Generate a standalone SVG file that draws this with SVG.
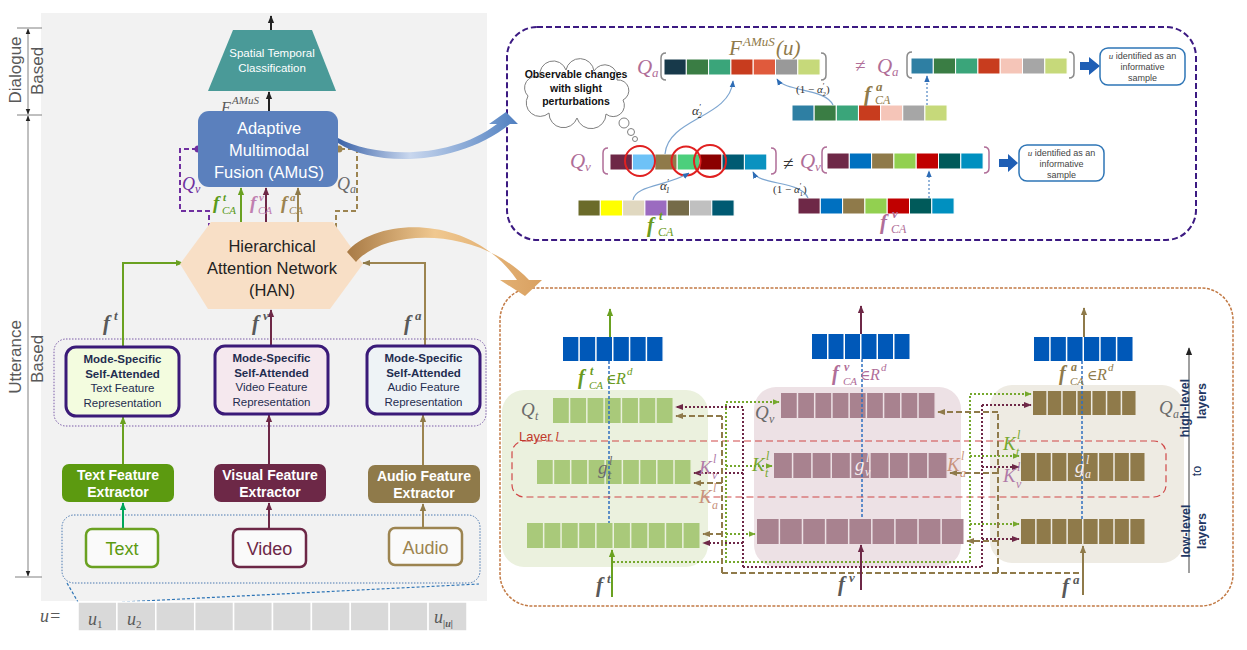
<svg xmlns="http://www.w3.org/2000/svg" width="1247" height="650" viewBox="0 0 1247 650">
<style>
.s{font-family:"Liberation Sans",Arial,sans-serif}
.m{font-family:"Liberation Serif","DejaVu Serif",serif;font-style:italic}
.r{font-family:"Liberation Serif","DejaVu Serif",serif}
.b{font-weight:bold}
.dotG{fill:none;stroke:#76a82e;stroke-width:2;stroke-dasharray:2 2}
.dotM{fill:none;stroke:#6e2847;stroke-width:2;stroke-dasharray:2 2}
.dashB{fill:none;stroke:#8f7a4a;stroke-width:2;stroke-dasharray:6 3}
.bl{fill:none;stroke:#2f6fc0;stroke-width:1.5;stroke-dasharray:3 2}
.c{stroke:#fff;stroke-width:1}
.cv{fill:none;stroke:#7ea6d0;stroke-width:1.2}
.ax{stroke:#808080;stroke-width:1}
</style>
<defs>
<marker id="aK" viewBox="0 0 10 10" refX="9" refY="5" markerWidth="8" markerHeight="8" markerUnits="userSpaceOnUse" orient="auto-start-reverse"><path d="M0,1 L10,5 L0,9 z" fill="#222"/></marker>
<marker id="aS" viewBox="0 0 10 10" refX="9" refY="5" markerWidth="6" markerHeight="6" markerUnits="userSpaceOnUse" orient="auto-start-reverse"><path d="M0,1 L10,5 L0,9 z" fill="#222"/></marker>
<marker id="aG" viewBox="0 0 10 10" refX="9" refY="5" markerWidth="8" markerHeight="8" markerUnits="userSpaceOnUse" orient="auto"><path d="M0,1 L10,5 L0,9 z" fill="#6aa121"/></marker>
<marker id="aT" viewBox="0 0 10 10" refX="9" refY="5" markerWidth="8" markerHeight="8" markerUnits="userSpaceOnUse" orient="auto"><path d="M0,1 L10,5 L0,9 z" fill="#00a65a"/></marker>
<marker id="aM" viewBox="0 0 10 10" refX="9" refY="5" markerWidth="8" markerHeight="8" markerUnits="userSpaceOnUse" orient="auto"><path d="M0,1 L10,5 L0,9 z" fill="#6e2847"/></marker>
<marker id="aB" viewBox="0 0 10 10" refX="9" refY="5" markerWidth="8" markerHeight="8" markerUnits="userSpaceOnUse" orient="auto"><path d="M0,1 L10,5 L0,9 z" fill="#8f7a4a"/></marker>
<marker id="aBl" viewBox="0 0 10 10" refX="9" refY="5" markerWidth="7" markerHeight="7" markerUnits="userSpaceOnUse" orient="auto"><path d="M0,1 L10,5 L0,9 z" fill="#2d6cb5"/></marker>
<marker id="aGd" viewBox="0 0 10 10" refX="9" refY="5" markerWidth="7" markerHeight="7" markerUnits="userSpaceOnUse" orient="auto"><path d="M0,1 L10,5 L0,9 z" fill="#76a82e"/></marker>
<linearGradient id="gBlue" x1="338" y1="0" x2="518" y2="0" gradientUnits="userSpaceOnUse"><stop offset="0" stop-color="#3b63a8"/><stop offset="0.4" stop-color="#c9d7ee"/><stop offset="1" stop-color="#4f7fc0"/></linearGradient>
<linearGradient id="gOr" x1="347" y1="0" x2="542" y2="0" gradientUnits="userSpaceOnUse"><stop offset="0" stop-color="#a87a45"/><stop offset="0.45" stop-color="#f0c890"/><stop offset="1" stop-color="#d9a060"/></linearGradient>
</defs>
<rect width="1247" height="650" fill="#fff"/>

<!-- LEFT PANEL -->
<rect x="41" y="13" width="446" height="588" fill="#f2f2f2"/>

<g id="axis-left">
<line class="ax" x1="17" y1="28" x2="42" y2="28"/>
<line class="ax" x1="17" y1="115" x2="42" y2="115"/>
<line class="ax" x1="15" y1="577" x2="42" y2="577"/>
<line class="ax" x1="28" y1="29" x2="28" y2="114" marker-start="url(#aS)" marker-end="url(#aS)"/>
<line class="ax" x1="28" y1="116" x2="28" y2="576" marker-start="url(#aS)" marker-end="url(#aS)"/>
<text transform="translate(21,70) rotate(-90)" class="s" font-size="17" fill="#595959" text-anchor="middle">Dialogue</text>
<text transform="translate(43,71) rotate(-90)" class="s" font-size="17" fill="#595959" text-anchor="middle">Based</text>
<text transform="translate(21,357) rotate(-90)" class="s" font-size="17" fill="#595959" text-anchor="middle">Utterance</text>
<text transform="translate(43,359) rotate(-90)" class="s" font-size="17" fill="#595959" text-anchor="middle">Based</text>
</g>

<g id="group-rep" fill="none">
<rect x="54" y="339" width="432" height="87" rx="12" stroke="#7a5aa8" stroke-width="1" stroke-dasharray="1.5 1.5"/>
<rect x="62" y="515" width="418" height="68" rx="12" stroke="#4a78b0" stroke-width="1" stroke-dasharray="1.5 1.5"/>
</g>

<g id="left-connectors" fill="none" stroke-width="2">
<line x1="271" y1="30" x2="271" y2="16" stroke="#222" marker-end="url(#aK)"/>
<line x1="269" y1="111" x2="269" y2="92" stroke="#222" marker-end="url(#aK)"/>
<path d="M209,228 V211 H180 V149 H196" stroke="#7030a0" stroke-dasharray="5 3"/>
<path d="M336,228 V211 H357 V149 H341" stroke="#9c8450" stroke-dasharray="5 3"/>
<line x1="241" y1="222" x2="241" y2="188" stroke="#6aa121" marker-end="url(#aG)"/>
<line x1="266" y1="222" x2="266" y2="188" stroke="#6e2847" marker-end="url(#aM)"/>
<line x1="298" y1="222" x2="298" y2="188" stroke="#9c8450" marker-end="url(#aB)"/>
<path d="M123,346 V263 H183" stroke="#6aa121" marker-end="url(#aG)"/>
<path d="M425,346 V263 H363" stroke="#9c8450" marker-end="url(#aB)"/>
<line x1="271" y1="346" x2="271" y2="310" stroke="#6e2847" marker-end="url(#aM)"/>
<line x1="123" y1="464" x2="123" y2="417" stroke="#6aa121" marker-end="url(#aG)"/>
<line x1="269" y1="464" x2="269" y2="415" stroke="#6e2847" marker-end="url(#aM)"/>
<line x1="423" y1="465" x2="423" y2="415" stroke="#9c8450" marker-end="url(#aB)"/>
<line x1="123" y1="529" x2="123" y2="503" stroke="#00a65a" marker-end="url(#aT)"/>
<line x1="269" y1="529" x2="269" y2="503" stroke="#6e2847" marker-end="url(#aM)"/>
<line x1="423" y1="528" x2="423" y2="504" stroke="#9c8450" marker-end="url(#aB)"/>
<path d="M67,583 L78,602 M122,602 L479,584" stroke="#2e75b6" stroke-width="1.2" stroke-dasharray="3 2"/>
</g>
<circle cx="198" cy="149" r="3.5" fill="#7030a0"/>
<circle cx="339" cy="149" r="3.5" fill="#9c8450"/>

<g id="node-stc">
<polygon points="233,30 312,30 336,91 208,91" fill="#4a9a98"/>
<text x="272" y="57" class="s" font-size="11.5" fill="#fff" text-anchor="middle">Spatial Temporal</text>
<text x="272" y="72" class="s" font-size="11.5" fill="#fff" text-anchor="middle">Classification</text>
</g>
<text x="221" y="113" class="m" font-size="16" fill="#595959">F</text>
<text x="232" y="104" class="m" font-size="11" fill="#595959">AMuS</text>

<g id="node-amus">
<rect x="198" y="111" width="140" height="76" rx="11" fill="#5b80bd"/>
<text x="269" y="134" class="s" font-size="16.5" fill="#fff" text-anchor="middle">Adaptive</text>
<text x="269" y="156" class="s" font-size="16.5" fill="#fff" text-anchor="middle">Multimodal</text>
<text x="269" y="178" class="s" font-size="16.5" fill="#fff" text-anchor="middle">Fusion (AMuS)</text>
</g>

<g id="labels-left">
<text x="182" y="190" class="m" font-size="18" fill="#7030a0">Q</text><text x="195" y="193" class="m" font-size="12" fill="#7030a0">v</text>
<text x="337" y="190" class="m" font-size="18" fill="#6a6a6a">Q</text><text x="350" y="193" class="m" font-size="12" fill="#6a6a6a">a</text>
<text x="213" y="209" class="m b" font-size="19" fill="#5a9a1a">f</text><text x="223" y="201" class="m b" font-size="11" fill="#5a9a1a">t</text><text x="222" y="214" class="m" font-size="11" fill="#5a9a1a">CA</text>
<text x="250" y="209" class="m b" font-size="19" fill="#c080b0">f</text><text x="259" y="201" class="m b" font-size="11" fill="#c080b0">v</text><text x="258" y="214" class="m" font-size="11" fill="#c080b0">CA</text>
<text x="281" y="209" class="m b" font-size="19" fill="#9c8450">f</text><text x="290" y="201" class="m b" font-size="11" fill="#9c8450">a</text><text x="289" y="214" class="m" font-size="11" fill="#9c8450">CA</text>
<text x="103" y="330" class="m b" font-size="21" fill="#595959">f</text><text x="114" y="320" class="m b" font-size="13" fill="#595959">t</text>
<text x="252" y="330" class="m b" font-size="21" fill="#595959">f</text><text x="263" y="320" class="m b" font-size="13" fill="#595959">v</text>
<text x="404" y="330" class="m b" font-size="21" fill="#595959">f</text><text x="415" y="320" class="m b" font-size="13" fill="#595959">a</text>
</g>

<g id="node-han">
<polygon points="211,222 333,222 363,264 330,309 208,309 180,264" fill="#f8dfc6"/>
<text x="272" y="252" class="s" font-size="16.5" fill="#222" text-anchor="middle">Hierarchical</text>
<text x="272" y="274" class="s" font-size="16.5" fill="#222" text-anchor="middle">Attention Network</text>
<text x="272" y="296" class="s" font-size="16.5" fill="#222" text-anchor="middle">(HAN)</text>
</g>

<g id="node-rep-text">
<rect x="66" y="347" width="113" height="69" rx="10" fill="#f3fcdf" stroke="#3a1a78" stroke-width="3"/>
<text x="122.5" y="363" class="s b" font-size="11.5" fill="#1f2d50" text-anchor="middle">Mode-Specific</text>
<text x="122.5" y="378" class="s b" font-size="11.5" fill="#1f2d50" text-anchor="middle">Self-Attended</text>
<text x="122.5" y="392" class="s" font-size="11.5" fill="#1f2d50" text-anchor="middle">Text Feature</text>
<text x="122.5" y="407" class="s" font-size="11.5" fill="#1f2d50" text-anchor="middle">Representation</text>
</g>
<g id="node-rep-video">
<rect x="215" y="346" width="113" height="68" rx="10" fill="#f5e8ee" stroke="#3a1a78" stroke-width="3"/>
<text x="271.5" y="362" class="s b" font-size="11.5" fill="#1f2d50" text-anchor="middle">Mode-Specific</text>
<text x="271.5" y="377" class="s b" font-size="11.5" fill="#1f2d50" text-anchor="middle">Self-Attended</text>
<text x="271.5" y="391" class="s" font-size="11.5" fill="#1f2d50" text-anchor="middle">Video Feature</text>
<text x="271.5" y="406" class="s" font-size="11.5" fill="#1f2d50" text-anchor="middle">Representation</text>
</g>
<g id="node-rep-audio">
<rect x="367" y="346" width="113" height="68" rx="10" fill="#eef3f6" stroke="#3a1a78" stroke-width="3"/>
<text x="423.5" y="362" class="s b" font-size="11.5" fill="#1f2d50" text-anchor="middle">Mode-Specific</text>
<text x="423.5" y="377" class="s b" font-size="11.5" fill="#1f2d50" text-anchor="middle">Self-Attended</text>
<text x="423.5" y="391" class="s" font-size="11.5" fill="#1f2d50" text-anchor="middle">Audio Feature</text>
<text x="423.5" y="406" class="s" font-size="11.5" fill="#1f2d50" text-anchor="middle">Representation</text>
</g>

<g id="node-ext-text">
<rect x="62" y="464" width="112" height="38" rx="7" fill="#5c9a10"/>
<text x="118" y="480" class="s b" font-size="14" fill="#fff" text-anchor="middle">Text Feature</text>
<text x="118" y="497" class="s b" font-size="14" fill="#fff" text-anchor="middle">Extractor</text>
</g>
<g id="node-ext-visual">
<rect x="214" y="464" width="112" height="38" rx="7" fill="#6d2847"/>
<text x="270" y="480" class="s b" font-size="14" fill="#fff" text-anchor="middle">Visual Feature</text>
<text x="270" y="497" class="s b" font-size="14" fill="#fff" text-anchor="middle">Extractor</text>
</g>
<g id="node-ext-audio">
<rect x="368" y="465" width="112" height="38" rx="7" fill="#8f7a4a"/>
<text x="424" y="481" class="s b" font-size="14" fill="#fff" text-anchor="middle">Audio Feature</text>
<text x="424" y="498" class="s b" font-size="14" fill="#fff" text-anchor="middle">Extractor</text>
</g>

<g id="node-in-text">
<rect x="86" y="529" width="72" height="38" rx="6" fill="#fafafa" stroke="#6aa121" stroke-width="2.5"/>
<text x="122" y="555" class="s" font-size="18" fill="#5c9a10" text-anchor="middle">Text</text>
</g>
<g id="node-in-video">
<rect x="233" y="529" width="73" height="38" rx="6" fill="#fafafa" stroke="#6d2847" stroke-width="2.5"/>
<text x="269.5" y="555" class="s" font-size="18" fill="#6d2847" text-anchor="middle">Video</text>
</g>
<g id="node-in-audio">
<rect x="389" y="528" width="73" height="37" rx="6" fill="#fafafa" stroke="#9c8450" stroke-width="2.5"/>
<text x="425.5" y="554" class="s" font-size="18" fill="#9c8450" text-anchor="middle">Audio</text>
</g>

<g id="node-u-row">
<text x="40" y="622" class="m" font-size="18" fill="#595959">u=</text>
<g fill="#d9d9d9" stroke="#fff" stroke-width="1.5">
<rect x="78" y="602" width="38.9" height="29"/><rect x="116.9" y="602" width="38.9" height="29"/><rect x="155.8" y="602" width="38.9" height="29"/><rect x="194.7" y="602" width="38.9" height="29"/><rect x="233.6" y="602" width="38.9" height="29"/><rect x="272.5" y="602" width="38.9" height="29"/><rect x="311.4" y="602" width="38.9" height="29"/><rect x="350.3" y="602" width="38.9" height="29"/><rect x="389.2" y="602" width="38.9" height="29"/><rect x="428.1" y="602" width="38.9" height="29"/>
</g>
<text x="88" y="625" class="m" font-size="18" fill="#595959">u</text><text x="97" y="628" class="r" font-size="11" fill="#595959">1</text>
<text x="127" y="625" class="m" font-size="18" fill="#595959">u</text><text x="136" y="628" class="r" font-size="11" fill="#595959">2</text>
<text x="434" y="623" class="m" font-size="18" fill="#595959">u</text><text x="443" y="627" class="m b" font-size="10" fill="#595959">|u|</text>
</g>

<!-- TOP RIGHT PANEL -->
<g id="panel-amus-detail">
<rect x="507" y="27" width="689" height="213" rx="30" fill="none" stroke="#3c1a82" stroke-width="2" stroke-dasharray="6 3"/>
</g>

<g id="node-cloud">
<path d="M528,96 A11.5,11.5 0 0 1 540,77 A13.5,13.5 0 0 1 566,70 A14.2,14.2 0 0 1 594,71 A12.5,12.5 0 0 1 617,80 A10.6,10.6 0 0 1 623,100 A11.2,11.2 0 0 1 606,114 A14.8,14.8 0 0 1 577,118 A14.4,14.4 0 0 1 549,113 A13.7,13.7 0 0 1 528,96 Z" fill="#fff" stroke="#7f7f7f" stroke-width="1"/>
<circle cx="624" cy="123" r="5" fill="#fff" stroke="#7f7f7f"/>
<circle cx="631" cy="132" r="3.5" fill="#fff" stroke="#7f7f7f"/>
<circle cx="635" cy="139" r="2.5" fill="#fff" stroke="#7f7f7f"/>
<text x="576" y="78" class="s b" font-size="10.5" fill="#111" text-anchor="middle">Observable changes</text>
<text x="576" y="92" class="s b" font-size="10.5" fill="#111" text-anchor="middle">with slight</text>
<text x="576" y="105" class="s b" font-size="10.5" fill="#111" text-anchor="middle">perturbations</text>
</g>

<g id="node-qa-row">
<text x="637" y="74" class="m" font-size="21" fill="#b06e98">Q</text><text x="652" y="77" class="m" font-size="13" fill="#b06e98">a</text>
<path d="M666,53 Q661,53 661,58 V75 Q661,80 666,80 M821,53 Q826,53 826,58 V75 Q826,80 821,80" fill="none" stroke="#8a8a8a" stroke-width="1.5"/>
<g class="c">
<rect x="664" y="59" width="22.3" height="16" fill="#17394a"/><rect x="686.3" y="59" width="22.3" height="16" fill="#3a7d44"/><rect x="708.6" y="59" width="22.3" height="16" fill="#3aa57a"/><rect x="730.9" y="59" width="22.3" height="16" fill="#c83c1e"/><rect x="753.2" y="59" width="22.3" height="16" fill="#e05a3c"/><rect x="775.5" y="59" width="22.3" height="16" fill="#999999"/><rect x="797.8" y="59" width="22.3" height="16" fill="#c6d97a"/>
</g>
<text x="729" y="55" class="m" font-size="21" fill="#8f7a4a">F</text><text x="743" y="46" class="m" font-size="13" fill="#8f7a4a">AMuS</text><text x="776" y="55" class="m" font-size="21" fill="#8f7a4a">(u)</text>
<text x="855" y="72" class="r" font-size="19" fill="#b06e98">≠</text>
<text x="877" y="73" class="m" font-size="21" fill="#b06e98">Q</text><text x="892" y="76" class="m" font-size="13" fill="#b06e98">a</text>
<path d="M912,52 Q907,52 907,57 V73 Q907,78 912,78 M1069,52 Q1074,52 1074,57 V73 Q1074,78 1069,78" fill="none" stroke="#8a8a8a" stroke-width="1.5"/>
<g class="c">
<rect x="911" y="58" width="22.3" height="16" fill="#2e7fa3"/><rect x="933.3" y="58" width="22.3" height="16" fill="#3a7d44"/><rect x="955.6" y="58" width="22.3" height="16" fill="#3aa57a"/><rect x="977.9" y="58" width="22.3" height="16" fill="#c83c1e"/><rect x="1000.2" y="58" width="22.3" height="16" fill="#f5c5b8"/><rect x="1022.5" y="58" width="22.3" height="16" fill="#a6a6a6"/><rect x="1044.8" y="58" width="22.3" height="16" fill="#c6d97a"/>
</g>
<polygon points="1080,62 1089,62 1089,57 1100,66 1089,75 1089,70 1080,70" fill="#1f5fb5"/>
</g>

<g id="node-info-1">
<rect x="1100" y="48" width="85" height="37" rx="8" fill="#fff" stroke="#2e75b6" stroke-width="1.5"/>
<text x="1142.5" y="59" class="s" font-size="9" fill="#444" text-anchor="middle"><tspan class="m">u</tspan> identified as an</text>
<text x="1142.5" y="70" class="s" font-size="9" fill="#444" text-anchor="middle">informative</text>
<text x="1142.5" y="81" class="s" font-size="9" fill="#444" text-anchor="middle">sample</text>
</g>

<g id="node-fa-ca">
<g class="c">
<rect x="792" y="105" width="22.15" height="16" fill="#2e7fa3"/><rect x="814.15" y="105" width="22.15" height="16" fill="#3a7d44"/><rect x="836.3" y="105" width="22.15" height="16" fill="#3aa57a"/><rect x="858.45" y="105" width="22.15" height="16" fill="#c83c1e"/><rect x="880.6" y="105" width="22.15" height="16" fill="#f5c5b8"/><rect x="902.75" y="105" width="22.15" height="16" fill="#a6a6a6"/><rect x="924.9" y="105" width="22.15" height="16" fill="#c6d97a"/>
</g>
<text x="864" y="101" class="m b" font-size="21" fill="#8f7a4a">f</text><text x="876" y="91" class="m b" font-size="13" fill="#8f7a4a">a</text><text x="875" y="104" class="m" font-size="12" fill="#8f7a4a">CA</text>
</g>

<g id="node-qv-row">
<text x="570" y="168" class="m" font-size="21" fill="#b06e98">Q</text><text x="585" y="171" class="m" font-size="13" fill="#b06e98">v</text>
<path d="M608,148 Q603,148 603,153 V169 Q603,174 608,174 M771,148 Q776,148 776,153 V169 Q776,174 771,174" fill="none" stroke="#b06e98" stroke-width="1.5"/>
<g class="c">
<rect x="610" y="154" width="22.4" height="16" fill="#6e2847"/><rect x="632.4" y="154" width="22.4" height="16" fill="#6ec2f7"/><rect x="654.8" y="154" width="22.4" height="16" fill="#8f7a4a"/><rect x="677.2" y="154" width="22.4" height="16" fill="#4ccf7c"/><rect x="699.6" y="154" width="22.4" height="16" fill="#8b0000"/><rect x="722" y="154" width="22.4" height="16" fill="#005a72"/><rect x="744.4" y="154" width="22.4" height="16" fill="#0a92c0"/>
</g>
<g fill="none" stroke="#e02020" stroke-width="2">
<circle cx="640" cy="161" r="15"/><circle cx="686" cy="161" r="14.5"/><circle cx="710" cy="161" r="16"/>
</g>
<text x="783" y="170" class="r" font-size="19" fill="#333">≠</text>
<text x="800" y="168" class="m" font-size="21" fill="#b06e98">Q</text><text x="815" y="171" class="m" font-size="13" fill="#b06e98">v</text>
<path d="M827,147 Q822,147 822,152 V168 Q822,173 827,173 M984,147 Q989,147 989,152 V168 Q989,173 984,173" fill="none" stroke="#b06e98" stroke-width="1.5"/>
<g class="c">
<rect x="827" y="153" width="22.3" height="16" fill="#6e2847"/><rect x="849.3" y="153" width="22.3" height="16" fill="#0070c0"/><rect x="871.6" y="153" width="22.3" height="16" fill="#8f7a4a"/><rect x="893.9" y="153" width="22.3" height="16" fill="#92d050"/><rect x="916.2" y="153" width="22.3" height="16" fill="#c00000"/><rect x="938.5" y="153" width="22.3" height="16" fill="#005a5a"/><rect x="960.8" y="153" width="22.3" height="16" fill="#0090c0"/>
</g>
<polygon points="999,159 1008,159 1008,154 1018,163 1008,172 1008,167 999,167" fill="#1f5fb5"/>
</g>

<g id="node-info-2">
<rect x="1019" y="145" width="85" height="36" rx="8" fill="#fff" stroke="#2e75b6" stroke-width="1.5"/>
<text x="1061.5" y="156" class="s" font-size="9" fill="#444" text-anchor="middle"><tspan class="m">u</tspan> identified as an</text>
<text x="1061.5" y="167" class="s" font-size="9" fill="#444" text-anchor="middle">informative</text>
<text x="1061.5" y="178" class="s" font-size="9" fill="#444" text-anchor="middle">sample</text>
</g>

<g id="node-fv-ca">
<g class="c">
<rect x="798" y="198" width="22.3" height="16" fill="#6e2847"/><rect x="820.3" y="198" width="22.3" height="16" fill="#0070c0"/><rect x="842.6" y="198" width="22.3" height="16" fill="#8f7a4a"/><rect x="864.9" y="198" width="22.3" height="16" fill="#92d050"/><rect x="887.2" y="198" width="22.3" height="16" fill="#c00000"/><rect x="909.5" y="198" width="22.3" height="16" fill="#005a5a"/><rect x="931.8" y="198" width="22.3" height="16" fill="#0090c0"/>
</g>
<text x="880" y="229" class="m b" font-size="21" fill="#b06e98">f</text><text x="892" y="218" class="m b" font-size="13" fill="#b06e98">v</text><text x="891" y="233" class="m" font-size="12" fill="#b06e98">CA</text>
</g>

<g id="node-ft-ca">
<g class="c">
<rect x="578" y="200" width="22.3" height="16" fill="#6b6b2a"/><rect x="600.3" y="200" width="22.3" height="16" fill="#ffff00"/><rect x="622.6" y="200" width="22.3" height="16" fill="#e0d8c0"/><rect x="644.9" y="200" width="22.3" height="16" fill="#9b6bc0"/><rect x="667.2" y="200" width="22.3" height="16" fill="#756b48"/><rect x="689.5" y="200" width="22.3" height="16" fill="#c0c0c0"/><rect x="711.8" y="200" width="22.3" height="16" fill="#005a72"/>
</g>
<text x="647" y="232" class="m b" font-size="21" fill="#6a9a20">f</text><text x="659" y="220" class="m b" font-size="13" fill="#6a9a20">t</text><text x="658" y="236" class="m" font-size="12" fill="#6a9a20">CA</text>
</g>

<g id="top-connectors">
<path class="cv" d="M833,105 C825,88 785,92 777,79" marker-end="url(#aBl)"/>
<path class="cv" d="M665,154 C668,118 730,118 733,81" marker-end="url(#aBl)"/>
<path class="cv" d="M808,198 C800,180 760,186 753,172" marker-end="url(#aBl)"/>
<path class="cv" d="M633,200 C635,185 668,186 689,173" marker-end="url(#aBl)"/>
<line x1="927" y1="105" x2="927" y2="76" stroke="#2d6cb5" stroke-width="1" stroke-dasharray="2 2" marker-end="url(#aBl)"/>
<line x1="929" y1="198" x2="929" y2="171" stroke="#2d6cb5" stroke-width="1" stroke-dasharray="2 2" marker-end="url(#aBl)"/>
<text x="796" y="93" class="r" font-size="11" fill="#333">(1 − <tspan class="m">α</tspan><tspan font-size="8" dy="-4">′</tspan><tspan font-size="7" dx="-2" dy="7">2</tspan><tspan dy="-3">)</tspan></text>
<text x="692" y="115" class="m" font-size="13" fill="#333">α<tspan font-size="9" dy="-5">′</tspan><tspan font-size="8" dx="-3" dy="8">2</tspan></text>
<text x="773" y="193" class="r" font-size="11" fill="#333">(1 − <tspan class="m">α</tspan><tspan font-size="8" dy="-4">′</tspan><tspan font-size="7" dx="-2" dy="7">1</tspan><tspan dy="-3">)</tspan></text>
<text x="660" y="190" class="m" font-size="13" fill="#333">α<tspan font-size="9" dy="-5">′</tspan><tspan font-size="8" dx="-3" dy="8">1</tspan></text>
</g>

<!-- BOTTOM RIGHT PANEL -->
<g id="panel-han-detail">
<rect x="500" y="288" width="733" height="318" rx="32" fill="none" stroke="#c27a45" stroke-width="1.5" stroke-dasharray="3 1.5"/>
</g>

<g id="node-col-text">
<rect x="502" y="390" width="206" height="177" rx="22" fill="#ebf1de"/>
<line x1="563" y1="349" x2="664" y2="349" stroke="#0058b8" stroke-width="24" stroke-dasharray="15.33 1.5"/>
<line x1="553" y1="410.5" x2="674" y2="410.5" stroke="#a9c97a" stroke-width="25" stroke-dasharray="15.79 1.5"/>
<line x1="537" y1="472" x2="692" y2="472" stroke="#a9c97a" stroke-width="24" stroke-dasharray="15.72 1.5"/>
<line x1="527" y1="535.5" x2="701" y2="535.5" stroke="#a9c97a" stroke-width="25" stroke-dasharray="15.9 1.5"/>
<line class="bl" x1="609" y1="361" x2="609" y2="523"/>
<text x="521" y="416" class="m" font-size="19" fill="#6b6b6b">Q</text><text x="535" y="420" class="m" font-size="12" fill="#6b6b6b">t</text>
<text x="598" y="474" class="m" font-size="19" fill="#6b6b6b">g</text><text x="609" y="465" class="m" font-size="12" fill="#6b6b6b">l</text><text x="608" y="479" class="m" font-size="12" fill="#6b6b6b">t</text>
</g>
<g id="node-col-video">
<rect x="754" y="387" width="207" height="180" rx="22" fill="#ede1e5"/>
<line x1="812" y1="346.5" x2="911" y2="346.5" stroke="#0058b8" stroke-width="25" stroke-dasharray="15 1.5"/>
<line x1="781" y1="405.5" x2="936" y2="405.5" stroke="#a8828f" stroke-width="25" stroke-dasharray="15.72 1.5"/>
<line x1="774" y1="465.5" x2="948" y2="465.5" stroke="#a8828f" stroke-width="25" stroke-dasharray="17.83 1.5"/>
<line x1="757" y1="531.5" x2="965" y2="531.5" stroke="#a8828f" stroke-width="25" stroke-dasharray="21.61 1.5"/>
<line class="bl" x1="862" y1="359" x2="862" y2="519"/>
<text x="755" y="419" class="m" font-size="19" fill="#6b6b6b">Q</text><text x="769" y="423" class="m" font-size="12" fill="#6b6b6b">v</text>
<text x="855" y="471" class="m" font-size="19" fill="#f5eef2">g</text><text x="866" y="462" class="m" font-size="12" fill="#f5eef2">l</text><text x="865" y="476" class="m" font-size="12" fill="#f5eef2">v</text>
</g>
<g id="node-col-audio">
<rect x="990" y="385" width="194" height="178" rx="22" fill="#eeebe3"/>
<line x1="1034" y1="349" x2="1134" y2="349" stroke="#0058b8" stroke-width="24" stroke-dasharray="15.17 1.5"/>
<line x1="1033" y1="403" x2="1137" y2="403" stroke="#8f7a4a" stroke-width="24" stroke-dasharray="13.36 1.5"/>
<line x1="1021" y1="467" x2="1146" y2="467" stroke="#8f7a4a" stroke-width="28" stroke-dasharray="14.125 1.5"/>
<line x1="1021" y1="531.5" x2="1146" y2="531.5" stroke="#8f7a4a" stroke-width="25" stroke-dasharray="14.125 1.5"/>
<line class="bl" x1="1082" y1="361" x2="1082" y2="519"/>
<text x="1159" y="414" class="m" font-size="19" fill="#6b6b6b">Q</text><text x="1173" y="418" class="m" font-size="12" fill="#6b6b6b">a</text>
<text x="1075" y="473" class="m" font-size="19" fill="#f5eef2">g</text><text x="1086" y="464" class="m" font-size="12" fill="#f5eef2">l</text><text x="1085" y="478" class="m" font-size="12" fill="#f5eef2">a</text>
</g>

<g id="layer-l">
<rect x="512" y="441" width="654" height="56" rx="12" fill="none" stroke="#d04848" stroke-width="1.2" stroke-dasharray="7 4"/>
<text x="519" y="441" class="s" font-size="13" fill="#c0392b">Layer <tspan class="m">l</tspan></text>
</g>

<g id="han-connectors">
<path class="dotG" d="M613,562 H970 M726,562 V402 M970,562 V394"/>
<path class="dotG" d="M726,402 H779" marker-end="url(#aGd)"/>
<path class="dotG" d="M726,466 H772" marker-end="url(#aGd)"/>
<path class="dotG" d="M726,534 H755" marker-end="url(#aGd)"/>
<path class="dotG" d="M970,394 H1031" marker-end="url(#aGd)"/>
<path class="dotG" d="M970,456 H1019" marker-end="url(#aGd)"/>
<path class="dotG" d="M970,524 H1019" marker-end="url(#aGd)"/>
<path class="dotM" d="M743,567 H982 M743,567 V407 M982,567 V405"/>
<path class="dotM" d="M743,407 H676" marker-end="url(#aM)"/>
<path class="dotM" d="M743,473 H694" marker-end="url(#aM)"/>
<path class="dotM" d="M743,543 H703" marker-end="url(#aM)"/>
<path class="dotM" d="M982,405 H1031" marker-end="url(#aM)"/>
<path class="dotM" d="M982,467 H1019" marker-end="url(#aM)"/>
<path class="dotM" d="M982,539 H1019" marker-end="url(#aM)"/>
<path class="dashB" d="M722,573 H1083 M722,573 V416 M998,573 V412"/>
<path class="dashB" d="M722,416 H676" marker-end="url(#aB)"/>
<path class="dashB" d="M722,483 H694" marker-end="url(#aB)"/>
<path class="dashB" d="M722,534 H703" marker-end="url(#aB)"/>
<path class="dashB" d="M998,412 H938" marker-end="url(#aB)"/>
<path class="dashB" d="M998,473 H950" marker-end="url(#aB)"/>
<path class="dashB" d="M998,541 H967" marker-end="url(#aB)"/>
<line x1="612" y1="597" x2="612" y2="550" stroke="#6aa121" stroke-width="2" marker-end="url(#aG)"/>
<line x1="861" y1="590" x2="861" y2="545" stroke="#6e2847" stroke-width="2" marker-end="url(#aM)"/>
<line x1="1083" y1="595" x2="1083" y2="546" stroke="#8f7a4a" stroke-width="2" marker-end="url(#aB)"/>
<line x1="610" y1="337" x2="610" y2="309" stroke="#6aa121" stroke-width="2" marker-end="url(#aG)"/>
<line x1="861" y1="334" x2="861" y2="306" stroke="#6e2847" stroke-width="2" marker-end="url(#aM)"/>
<line x1="1084" y1="337" x2="1084" y2="308" stroke="#8f7a4a" stroke-width="2" marker-end="url(#aB)"/>
</g>

<g id="han-labels">
<text x="578" y="384" class="m b" font-size="20" fill="#6a9a20">f</text><text x="590" y="375" class="m b" font-size="12" fill="#6a9a20">t</text><text x="589" y="389" class="m" font-size="11" fill="#6a9a20">CA</text><text x="606" y="384" class="r" font-size="14" fill="#6a9a20">∈</text><text x="616" y="384" class="m" font-size="16" fill="#6a9a20">R</text><text x="627" y="375" class="m" font-size="11" fill="#6a9a20">d</text>
<text x="832" y="380" class="m b" font-size="20" fill="#b06e98">f</text><text x="844" y="371" class="m b" font-size="12" fill="#b06e98">v</text><text x="843" y="385" class="m" font-size="11" fill="#b06e98">CA</text><text x="860" y="380" class="r" font-size="14" fill="#b06e98">∈</text><text x="870" y="380" class="m" font-size="16" fill="#b06e98">R</text><text x="881" y="371" class="m" font-size="11" fill="#b06e98">d</text>
<text x="1059" y="380" class="m b" font-size="20" fill="#8f7a4a">f</text><text x="1071" y="371" class="m b" font-size="12" fill="#8f7a4a">a</text><text x="1070" y="385" class="m" font-size="11" fill="#8f7a4a">CA</text><text x="1087" y="380" class="r" font-size="14" fill="#8f7a4a">∈</text><text x="1097" y="380" class="m" font-size="16" fill="#8f7a4a">R</text><text x="1108" y="371" class="m" font-size="11" fill="#8f7a4a">d</text>
<text x="596" y="592" class="m b" font-size="21" fill="#595959">f</text><text x="607" y="583" class="m b" font-size="13" fill="#595959">t</text>
<text x="838" y="591" class="m b" font-size="21" fill="#595959">f</text><text x="849" y="582" class="m b" font-size="13" fill="#595959">v</text>
<text x="1062" y="593" class="m b" font-size="21" fill="#595959">f</text><text x="1073" y="584" class="m b" font-size="13" fill="#595959">a</text>
<text x="699" y="474" class="m" font-size="19" fill="#b07aa8">K</text><text x="713" y="463" class="m" font-size="12" fill="#b07aa8">l</text><text x="712" y="479" class="m" font-size="12" fill="#b07aa8">v</text>
<text x="699" y="503" class="m" font-size="19" fill="#c8927c">K</text><text x="713" y="492" class="m" font-size="12" fill="#c8927c">l</text><text x="712" y="509" class="m" font-size="12" fill="#c8927c">a</text>
<text x="752" y="471" class="m" font-size="19" fill="#76a82e">K</text><text x="766" y="460" class="m" font-size="12" fill="#76a82e">l</text><text x="765" y="477" class="m" font-size="12" fill="#76a82e">t</text>
<text x="947" y="471" class="m" font-size="19" fill="#c8927c">K</text><text x="961" y="460" class="m" font-size="12" fill="#c8927c">l</text><text x="960" y="477" class="m" font-size="12" fill="#c8927c">a</text>
<text x="1003" y="450" class="m" font-size="19" fill="#76a82e">K</text><text x="1017" y="439" class="m" font-size="12" fill="#76a82e">l</text><text x="1016" y="456" class="m" font-size="12" fill="#76a82e">t</text>
<text x="1003" y="482" class="m" font-size="19" fill="#b07aa8">K</text><text x="1017" y="471" class="m" font-size="12" fill="#b07aa8">l</text><text x="1016" y="488" class="m" font-size="12" fill="#b07aa8">v</text>
</g>

<g id="axis-layers">
<line x1="1189" y1="573" x2="1189" y2="348" stroke="#808080" stroke-width="1.5" marker-end="url(#aK)"/>
<text transform="translate(1189,408) rotate(-90)" class="s b" font-size="12.5" fill="#1f3864" text-anchor="middle">high-level</text>
<text transform="translate(1206,401) rotate(-90)" class="s b" font-size="12.5" fill="#1f3864" text-anchor="middle">layers</text>
<text transform="translate(1201,471) rotate(-90)" class="s" font-size="12.5" fill="#1f3864" text-anchor="middle">to</text>
<text transform="translate(1190,531) rotate(-90)" class="s b" font-size="12.5" fill="#1f3864" text-anchor="middle">low-level</text>
<text transform="translate(1206,531) rotate(-90)" class="s b" font-size="12.5" fill="#1f3864" text-anchor="middle">layers</text>
</g>

<g id="swooshes">
<path d="M338,138 C375,158 450,160 497,124 L489,124 L506,112 L518,124 L510,124 C455,168 372,166 338,143 Z" fill="url(#gBlue)"/>
<path d="M347,252 C375,218 470,212 517,280 L500,280 L525,296 L542,280 L529,280 C478,226 385,228 356,262 Z" fill="url(#gOr)"/>
</g>
</svg>
